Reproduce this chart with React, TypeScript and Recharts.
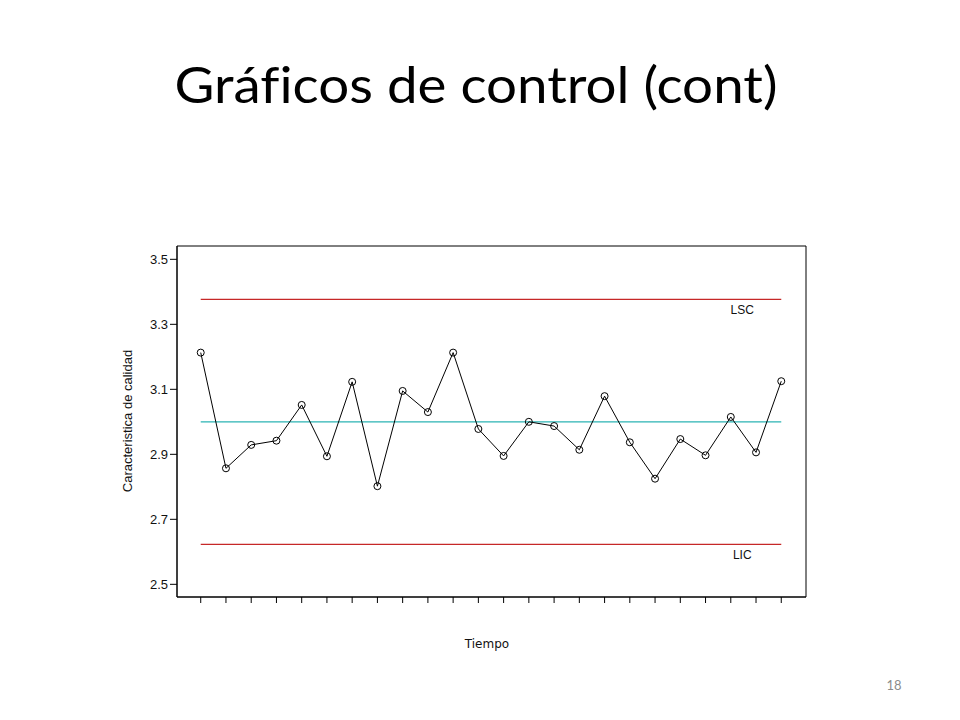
import { Line, LineChart, ReferenceArea, ReferenceLine, XAxis, YAxis } from "recharts";

const samples = [1, 2, 3, 4, 5, 6, 7, 8, 9, 10, 11, 12, 13, 14, 15, 16, 17, 18, 19, 20, 21, 22, 23, 24];
const values = [
  3.213, 2.857, 2.929, 2.942, 3.052, 2.894, 3.123, 2.802, 3.095, 3.03, 3.213, 2.978,
  2.895, 3.0, 2.987, 2.914, 3.079, 2.937, 2.825, 2.947, 2.897, 3.015, 2.906, 3.125,
];
const yTicks = [2.5, 2.7, 2.9, 3.1, 3.3, 3.5];
const center = 3.0;
const lsc = 3.377;
const lic = 2.623;

const data = samples.map((s, i) => ({ t: s, value: values[i] }));

const X_DOMAIN: [number, number] = [0.06, 24.98];
const Y_DOMAIN: [number, number] = [2.461, 3.541];

function LimitLabel({ viewBox, text }: any) {
  if (!viewBox) return null;
  const { x, y, width } = viewBox;
  return (
    <text
      x={x + width - 39}
      y={y + 15}
      textAnchor="middle"
      fontSize={12}
      fontFamily="Liberation Sans, Arial, sans-serif"
      fill="#111"
    >
      {text}
    </text>
  );
}

export default function App() {
  return (
    <div style={{ position: "absolute", left: 0, top: 0, width: 960, height: 720, background: "#fff" }}>
      <LineChart
        width={960}
        height={720}
        data={data}
        margin={{ top: 246, right: 154, bottom: 93, left: 117 }}
      >
        <XAxis
          dataKey="t"
          type="number"
          domain={X_DOMAIN}
          ticks={samples}
          allowDataOverflow
          height={30}
          tickSize={6}
          tickFormatter={() => ""}
          axisLine={{ stroke: "#000" }}
          tickLine={{ stroke: "#000" }}
        />
        <YAxis
          type="number"
          domain={Y_DOMAIN}
          ticks={yTicks}
          allowDataOverflow
          width={60}
          tickSize={7}
          tickMargin={2}
          tickFormatter={(v: number) => v.toFixed(1)}
          tick={{ fontSize: 13, fill: "#111", fontFamily: "Liberation Sans, Arial, sans-serif" }}
          axisLine={{ stroke: "#000" }}
          tickLine={{ stroke: "#000" }}
        />
        {/* plot frame */}
        <ReferenceArea
          x1={X_DOMAIN[0]}
          x2={X_DOMAIN[1]}
          y1={Y_DOMAIN[0]}
          y2={Y_DOMAIN[1]}
          fill="none"
          stroke="#000"
          strokeWidth={1}
          ifOverflow="visible"
        />
        <ReferenceLine
          segment={[{ x: samples[0], y: lsc }, { x: samples[samples.length - 1], y: lsc }]}
          stroke="#c62828"
          strokeWidth={1.2}
          label={<LimitLabel text="LSC" />}
        />
        <ReferenceLine
          segment={[{ x: samples[0], y: center }, { x: samples[samples.length - 1], y: center }]}
          stroke="#2bb3b3"
          strokeWidth={1.2}
        />
        <ReferenceLine
          segment={[{ x: samples[0], y: lic }, { x: samples[samples.length - 1], y: lic }]}
          stroke="#c62828"
          strokeWidth={1.2}
          label={<LimitLabel text="LIC" />}
        />
        <Line
          dataKey="value"
          stroke="#000"
          strokeWidth={1}
          dot={{ r: 3.5, stroke: "#000", strokeWidth: 1, fill: "none" }}
          isAnimationActive={false}
        />
      </LineChart>
      <svg
        width={960}
        height={720}
        style={{ position: "absolute", left: 0, top: 0, pointerEvents: "none" }}
      >
        <text
          x={476}
          y={103}
          textAnchor="middle"
          fontSize={50}
          fontFamily="Lato, 'Open Sans', sans-serif"
          fill="#000"
          textLength={603}
          lengthAdjust="spacingAndGlyphs"
          style={{ fontVariantLigatures: "none" }}
        >
          Gráficos de control (cont)
        </text>
        <text
          x={0}
          y={0}
          transform="translate(132 421) rotate(-90)"
          textAnchor="middle"
          fontSize={13}
          fontFamily="Liberation Sans, Arial, sans-serif"
          fill="#111"
        >
          Caracteristica de calidad
        </text>
        <text
          x={487}
          y={648}
          textAnchor="middle"
          fontSize={12}
          fontFamily="DejaVu Sans, sans-serif"
          fill="#111"
        >
          Tiempo
        </text>
        <text
          x={894}
          y={690}
          textAnchor="middle"
          fontSize={13}
          fontFamily="Lato, 'Open Sans', sans-serif"
          fill="#8c8c8c"
        >
          18
        </text>
      </svg>
    </div>
  );
}
